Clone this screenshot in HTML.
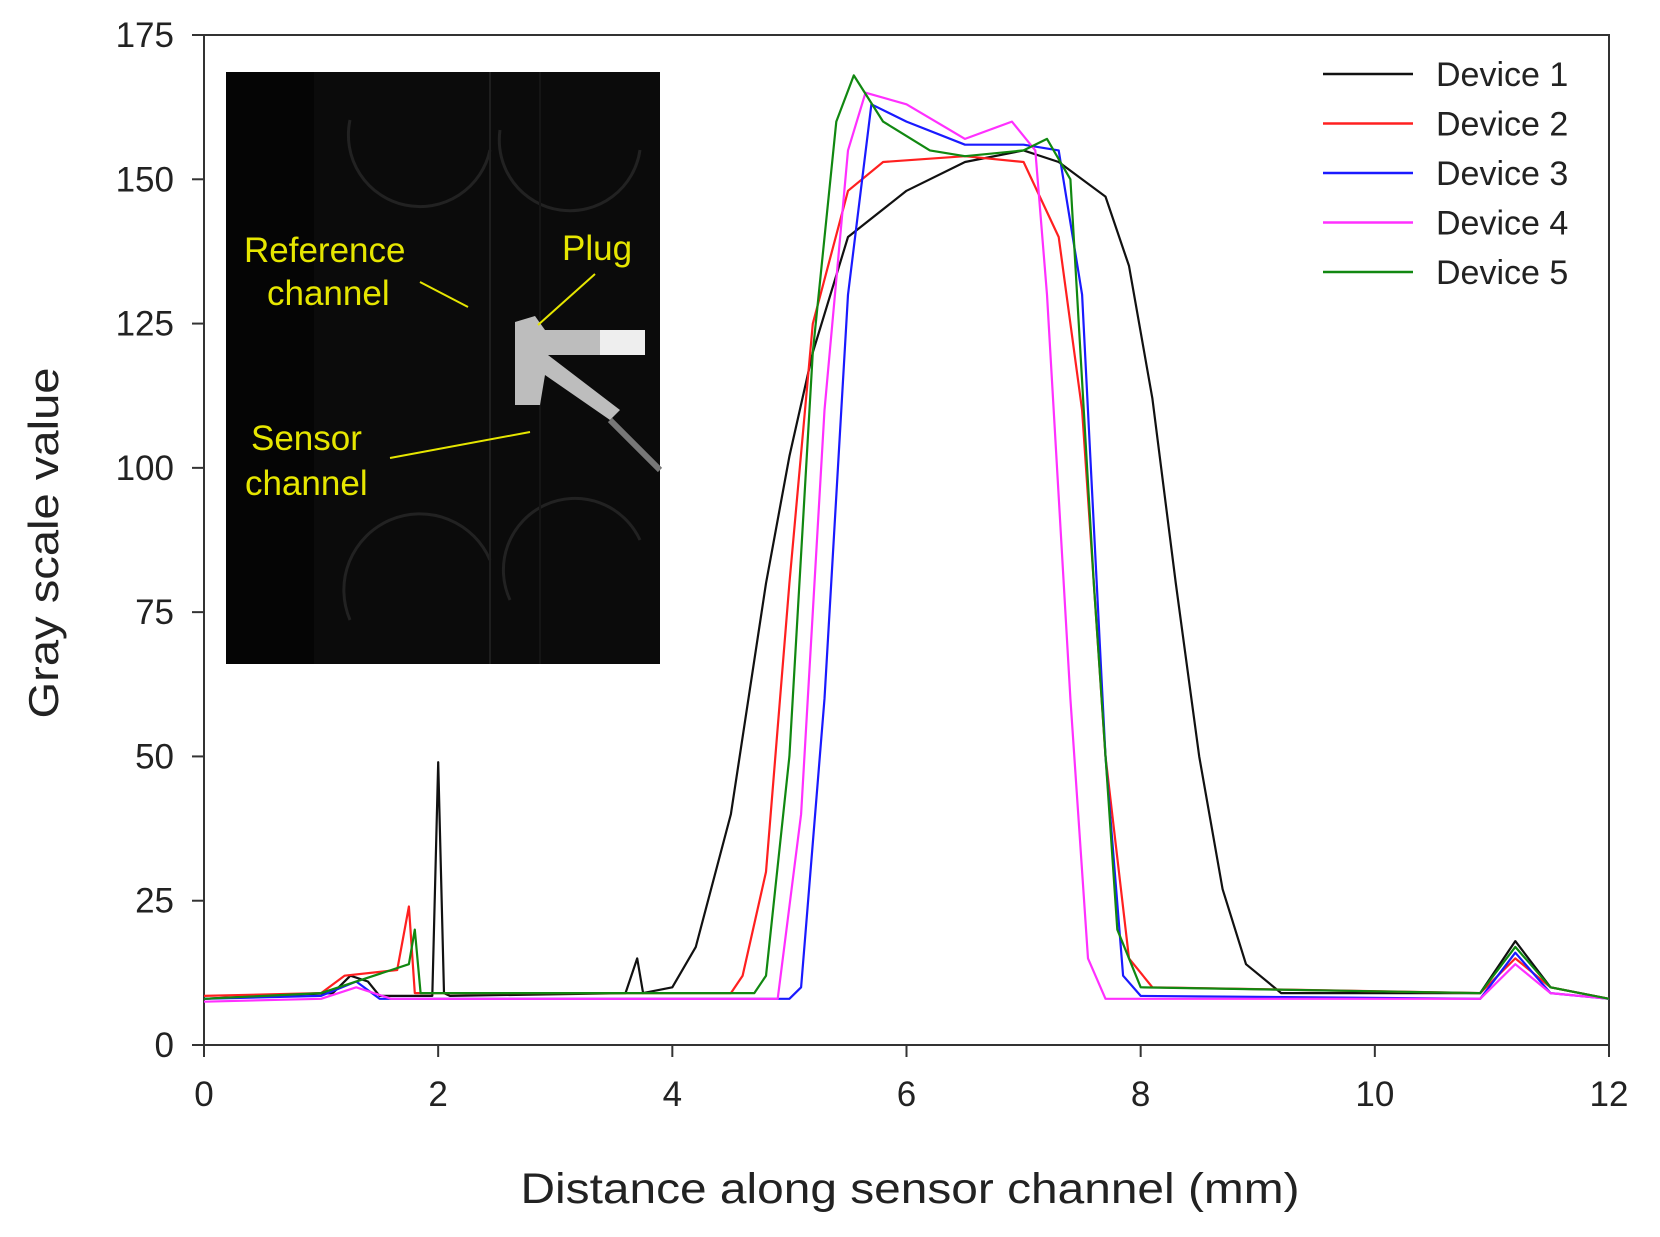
<!DOCTYPE html>
<html><head><meta charset="utf-8"><style>
body{margin:0;background:#fff;}
svg{display:block;font-family:"Liberation Sans",sans-serif;}
</style></head><body>
<svg id="chart" width="1660" height="1237" viewBox="0 0 1660 1237">
<rect x="0" y="0" width="1660" height="1237" fill="#fff"/>
<g id="inset">
<rect x="226" y="72" width="434" height="592" fill="#050505"/>
<rect x="314" y="72" width="346" height="592" fill="#0b0b0b"/>
<path d="M350 120 A70 70 0 0 0 490 150 M500 130 A70 70 0 0 0 640 150 M350 620 A70 70 0 0 1 490 560 M510 600 A70 70 0 0 1 640 540" stroke="#222" stroke-width="3" fill="none"/>
<line x1="490" y1="72" x2="490" y2="664" stroke="#1e1e1e" stroke-width="2"/>
<line x1="540" y1="72" x2="540" y2="664" stroke="#151515" stroke-width="2"/>
<path d="M515 322 L535 316 L545 330 L645 330 L645 355 L548 355 L620 410 L610 420 L545 375 L540 405 L515 405 Z" fill="#bdbdbd"/>
<rect x="600" y="330" width="45" height="25" fill="#eee"/>
<line x1="610" y1="420" x2="660" y2="470" stroke="#777" stroke-width="6"/>
<g fill="#e6e600" font-size="35">
<text x="244" y="262">Reference</text>
<text x="267" y="305">channel</text>
<text x="562" y="260">Plug</text>
<text x="251" y="450">Sensor</text>
<text x="245" y="495">channel</text>
</g>
<g stroke="#e6e600" stroke-width="2">
<line x1="420" y1="282" x2="468" y2="307"/>
<line x1="595" y1="274" x2="538" y2="325"/>
<line x1="390" y1="458" x2="530" y2="432"/>
</g>
</g>
<g id="axes"></g>
<g id="series"></g>
<g id="legend"></g>
<text x="910" y="1203" text-anchor="middle" font-size="43" textLength="779" lengthAdjust="spacingAndGlyphs" fill="#222">Distance along sensor channel (mm)</text>
<text transform="translate(58,543) rotate(-90)" text-anchor="middle" font-size="42" textLength="351" lengthAdjust="spacingAndGlyphs" fill="#222">Gray scale value</text>
</svg>
<script>
const xTicks=[0,2,4,6,8,10,12];
const yTicks=[0,25,50,75,100,125,150,175];
const seriesNames=["Device 1","Device 2","Device 3","Device 4","Device 5"];
const seriesColors=["#111111","#ff2020","#1a1aff","#ff30ff","#118811"];
const xs1=[0,0.5,1.1,1.25,1.4,1.5,1.95,2.0,2.05,2.1,3.6,3.7,3.75,4.0,4.2,4.5,4.8,5.0,5.2,5.5,6.0,6.5,7.0,7.3,7.7,7.9,8.1,8.3,8.5,8.7,8.9,9.2,10.9,11.2,11.5,12];
const ys1=[8,8.5,9,12,11,8.5,8.5,49,9,8.5,9,15,9,10,17,40,80,102,120,140,148,153,155,153,147,135,112,80,50,27,14,9,9,18,10,8];
const xs2=[0,1.0,1.2,1.65,1.75,1.8,4.5,4.6,4.8,5.0,5.2,5.5,5.8,6.5,7.0,7.3,7.5,7.7,7.9,8.1,10.9,11.2,11.5,12];
const ys2=[8.5,9,12,13,24,9,9,12,30,80,125,148,153,154,153,140,110,50,15,10,9,15,10,8];
const xs3=[0,1.0,1.3,1.5,5.0,5.1,5.3,5.5,5.7,6.0,6.5,7.0,7.3,7.5,7.7,7.85,8.0,10.9,11.2,11.5,12];
const ys3=[8,8.5,11,8,8,10,60,130,163,160,156,156,155,130,50,12,8.5,8,16,9,8];
const xs4=[0,1.0,1.3,1.6,4.9,5.1,5.3,5.5,5.65,6.0,6.5,6.9,7.1,7.2,7.4,7.55,7.7,10.9,11.2,11.5,12];
const ys4=[7.5,8,10,8,8,40,110,155,165,163,157,160,155,130,60,15,8,8,14,9,8];
const xs5=[0,1.0,1.6,1.75,1.8,1.85,4.7,4.8,5.0,5.2,5.4,5.55,5.8,6.2,6.5,7.0,7.2,7.4,7.6,7.8,8.0,10.9,11.2,11.5,12];
const ys5=[8,9,13,14,20,9,9,12,50,120,160,168,160,155,154,155,157,150,80,20,10,9,17,10,8];
const allX=[xs1,xs2,xs3,xs4,xs5], allY=[ys1,ys2,ys3,ys4,ys5];
const NS="http://www.w3.org/2000/svg";
const L=204,R=1609,T=35,B=1045;
const sx=v=>L+(v-0)/(12-0)*(R-L);
const sy=v=>B-(v-0)/(175-0)*(B-T);
function mk(tag,attrs,parent){const e=document.createElementNS(NS,tag);for(const k in attrs)e.setAttribute(k,attrs[k]);parent.appendChild(e);return e;}
const axes=document.getElementById('axes');
const frame=mk('rect',{x:L,y:T,width:R-L,height:B-T,fill:'none',stroke:'#333','stroke-width':2},axes);


xTicks.forEach(t=>{
 const ln=mk('line',{x1:sx(t),x2:sx(t),y1:B,y2:B+12,stroke:'#333','stroke-width':2},axes);
 
 
 const tx=mk('text',{x:sx(t),y:B+61,'text-anchor':'middle','font-size':35,fill:'#222'},axes);
 tx.textContent=t;
 
 
});
yTicks.forEach(t=>{
 const ln=mk('line',{x1:L-12,x2:L,y1:sy(t),y2:sy(t),stroke:'#333','stroke-width':2},axes);
 
 
 const tx=mk('text',{x:L-30,y:sy(t)+12,'text-anchor':'end','font-size':35,fill:'#222'},axes);
 tx.textContent=t;
 
 
});
const sg=document.getElementById('series');
allX.forEach((xs,i)=>{
 const d=xs.map((x,j)=>(j?'L':'M')+sx(x).toFixed(1)+' '+sy(allY[i][j]).toFixed(1)).join(' ');
 const p=mk('path',{d:d,fill:'none',stroke:seriesColors[i],'stroke-width':2.2,'stroke-linejoin':'round'},sg);
 
 
});
const lg=document.getElementById('legend');
seriesNames.forEach((n,i)=>{
 const y=74+i*49.5;
 const ln=mk('line',{x1:1323,x2:1413,y1:y,y2:y,stroke:seriesColors[i],'stroke-width':2.5},lg);
 
 
 const tx=mk('text',{x:1436,y:y+12,'font-size':34,fill:'#222'},lg);
 tx.textContent=n;
 
 
});
</script>
</body></html>
